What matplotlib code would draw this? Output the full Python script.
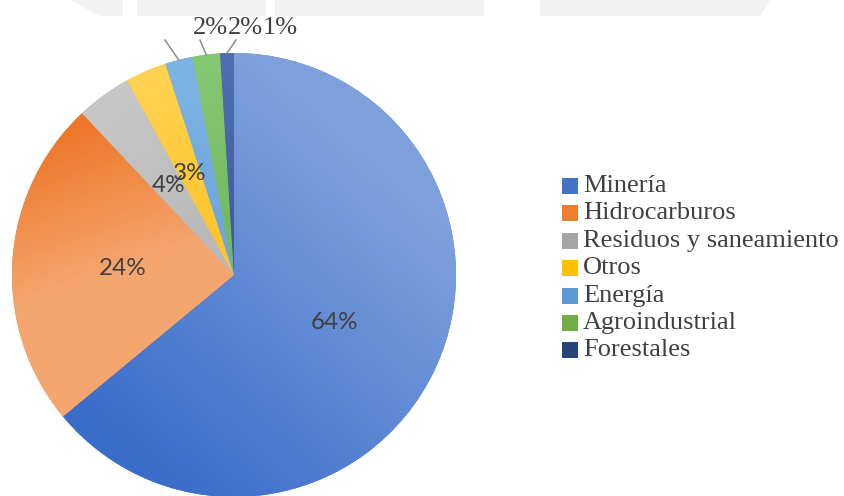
import numpy as np
import matplotlib.pyplot as plt
from matplotlib.patches import Rectangle, Polygon
from matplotlib.colors import to_rgb

# Conflict share by activity (percent)
categories = ["Minería", "Hidrocarburos", "Residuos y saneamiento", "Otros",
              "Energía", "Agroindustrial", "Forestales"]
shares = [64, 24, 4, 3, 2, 2, 1]
base_colors = ["#4472c4", "#ed7d31", "#a5a5a5", "#ffc000",
               "#5b9bd5", "#70ad47", "#264478"]

# gradient shading per wedge: (colour A, colour B, angle A, radius frac A, angle B, radius frac B)
shading = [
    ("#7ea1dc", "#3a6cca", 35, 0.8, 240, 0.95),
    ("#ee772a", "#f5a66f", 135, 0.95, 175, 0.45),
    ("#c6c6c6", "#b9b9b9", 125, 0.9, 125, 0.2),
    ("#ffd34f", "#fdc52c", 110, 0.95, 110, 0.2),
    ("#7db3e4", "#6fa6dc", 104, 0.95, 104, 0.2),
    ("#85c873", "#74b861", 97, 0.95, 97, 0.2),
    ("#4f6fb2", "#3f5d9e", 92, 0.95, 92, 0.2),
]

W, H = 845, 496
SERIF = "Liberation Serif"
TEXT = "#404040"

fig = plt.figure(figsize=(W / 100, H / 100), dpi=100)
ax = fig.add_axes([0, 0, 1, 1])

# faint watermark band along the top edge
band = "#f2f2f2"
for pts in [[(70, 0), (123, 0), (123, 16), (100, 16)],
            [(137, 0), (266, 0), (266, 16), (137, 16)],
            [(275, 0), (484, 0), (484, 16), (275, 16)],
            [(540, 0), (770, 0), (760, 16), (540, 16)]]:
    ax.add_patch(Polygon([(x, H - y) for x, y in pts], closed=True,
                         facecolor=band, edgecolor="none", zorder=0))

cx, cy, R = 234, H - 275, 222
wedges, texts, autotexts = ax.pie(
    shares, colors=base_colors, startangle=90, counterclock=False,
    center=(cx, cy), radius=R, autopct="%1.0f%%", pctdistance=0.5,
    wedgeprops=dict(linewidth=0), frame=True,
    textprops=dict(fontsize=17.5, color=TEXT, family="Lato"))

# gradient fill clipped to every wedge
yy, xx = np.mgrid[cy - R:cy + R:500j, cx - R:cx + R:500j]


def pt(a, f):
    return np.array([cx + f * R * np.cos(np.radians(a)),
                     cy + f * R * np.sin(np.radians(a))])


for w, (ca, cb, a0, f0, a1, f1) in zip(wedges, shading):
    p0, p1 = pt(a0, f0), pt(a1, f1)
    d = p1 - p0
    t = ((xx - p0[0]) * d[0] + (yy - p0[1]) * d[1]) / (d @ d)
    t = np.clip(t, 0, 1)[..., None]
    img = (1 - t) * np.array(to_rgb(ca)) + t * np.array(to_rgb(cb))
    im = ax.imshow(img, extent=(cx - R, cx + R, cy - R, cy + R), origin="lower",
                   interpolation="bilinear", zorder=1.5)
    im.set_clip_path(w)

for t in autotexts:
    t.set_zorder(5)

# the three smallest slices get their labels above the pie with leader lines
outside = [(4, 210.5, 165, 40), (5, 245.5, 200, 40), (6, 280.5, 236, 40)]
for idx, lx, sx, sy in outside:
    w = wedges[idx]
    mid = np.radians((w.theta1 + w.theta2) / 2)
    ex, ey = cx + R * np.cos(mid), cy + R * np.sin(mid)
    ax.plot([sx, ex], [H - sy, ey], color="#8c8c8c", lw=1.1, zorder=4)
    at = autotexts[idx]
    at.set_position((lx, H - 28))
    at.set_family(SERIF)
    at.set_fontsize(19)
    at.set_ha("center")
    at.set_va("center")

# legend
for i, (name, col) in enumerate(zip(categories, base_colors)):
    y = H - (186 + 27.4 * i)
    ax.add_patch(Rectangle((562, y - 8), 16, 16, facecolor=col,
                           edgecolor="none", zorder=3))
    ax.text(583, y, name, fontsize=19, family=SERIF, color=TEXT,
            ha="left", va="center", zorder=3)

ax.set_xlim(0, W)
ax.set_ylim(0, H)
ax.set_aspect("equal")
ax.axis("off")

fig.savefig("out.png", dpi=100, facecolor="white")
